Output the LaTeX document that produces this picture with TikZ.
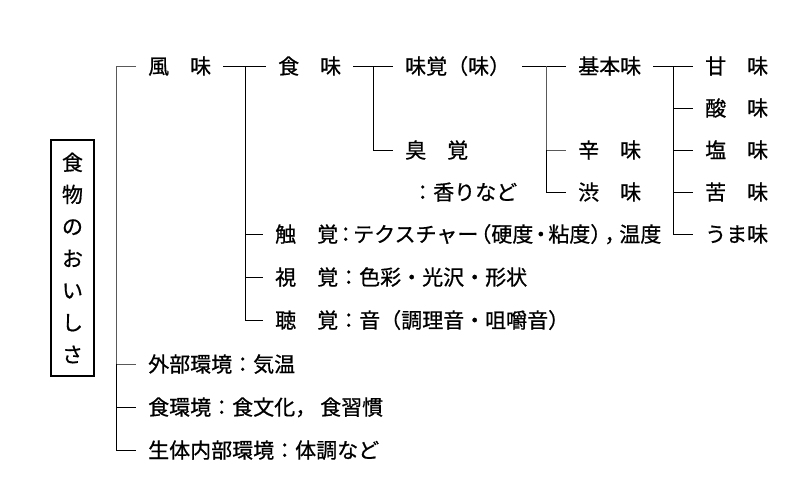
\documentclass[tikz,border=0pt]{standalone}
\usepackage{fontspec}
\newfontfamily\jp[FakeBold=0.7]{Noto Sans CJK JP}
\begin{document}
\begin{tikzpicture}[x=1pt,y=-1pt,
  every node/.style={font=\jp\fontsize{21pt}{32pt}\selectfont},
  lbl/.style={anchor=west, inner xsep=12pt, inner ysep=0pt, text height=18.5pt, text depth=2.5pt},
  ln/.style={line width=1pt, black},
  faint/.style={line width=1pt, black!65}]
\useasboundingbox (0,0) rectangle (800,485);
% title box
\node[draw, line width=1.1pt, minimum width=43pt, minimum height=236pt, inner sep=0pt, align=center] (box) at (72.5,258) {食\\物\\の\\お\\い\\し\\さ};
% labels
\node[lbl] (fuumi) at (136,66) {風　味};
\node[lbl] (shokumi) at (266,66) {食　味};
\node[lbl] (mikaku) at (393,66) {味覚（味）};
\node[lbl] (kihon) at (566,66) {基本味};
\node[lbl] (amami) at (693,66) {甘　味};
\node[lbl] (sanmi) at (693,108) {酸　味};
\node[lbl] (enmi) at (693,150) {塩　味};
\node[lbl] (kumi) at (693,192) {苦　味};
\node[lbl] (umami) at (693,234) {うま味};
\node[lbl] (shuukaku) at (393,150) {臭　覚};
\node[lbl] (kaori) at (400,192) {：香りなど};
\node[lbl] (karami) at (566,150) {辛　味};
\node[lbl] (shibumi) at (566,192) {渋　味};
\node[lbl] (shokkaku) at (263,234) {触　覚\kern-3pt：\kern-3pt テクスチャー\kern-8pt（硬度\kern-3pt・\kern-3pt粘度）\kern-7pt，\kern-6pt温度};
\node[lbl] (shikaku) at (263,277) {視　覚：色彩・光沢・形状};
\node[lbl] (choukaku) at (263,320) {聴　覚：音（調理音・咀嚼音）};
\node[lbl] (gaibu) at (136,364) {外部環境：気温};
\node[lbl] (shokkankyo) at (136,407) {食環境：食文化，\kern4pt食習慣};
\node[lbl] (seitai) at (136,450) {生体内部環境：体調など};
% junctions
\coordinate (j1) at (116,66);
\coordinate (j2) at (245,66);
\coordinate (j3) at (373,66);
\coordinate (j4) at (546,66);
\coordinate (j5) at (673,66);
\coordinate (j1b) at (j1 |- gaibu.west);
\coordinate (j4b) at (j4 |- karami.west);
% spine 1
\draw[faint] (fuumi.west) -- (j1) |- (gaibu.west);
\draw[ln] (j1b) |- (shokkankyo.west);
\draw[ln] (j1b) |- (seitai.west);
% spine 2
\draw[ln] (fuumi.east) -- (shokumi.west);
\draw[ln] (j2) |- (shokkaku.west);
\draw[ln] (j2) |- (shikaku.west);
\draw[ln] (j2) |- (choukaku.west);
% spine 3
\draw[ln] (shokumi.east) -- (mikaku.west);
\draw[ln] (j3) |- (shuukaku.west);
% spine 4
\draw[ln] (mikaku.east) -- (kihon.west);
\draw[faint] (j4) |- (karami.west);
\draw[ln] (j4b) |- (shibumi.west);
% spine 5
\draw[ln] (kihon.east) -- (amami.west);
\draw[ln] (j5) |- (sanmi.west);
\draw[ln] (j5) |- (enmi.west);
\draw[ln] (j5) |- (kumi.west);
\draw[ln] (j5) |- (umami.west);
\end{tikzpicture}
\end{document}
